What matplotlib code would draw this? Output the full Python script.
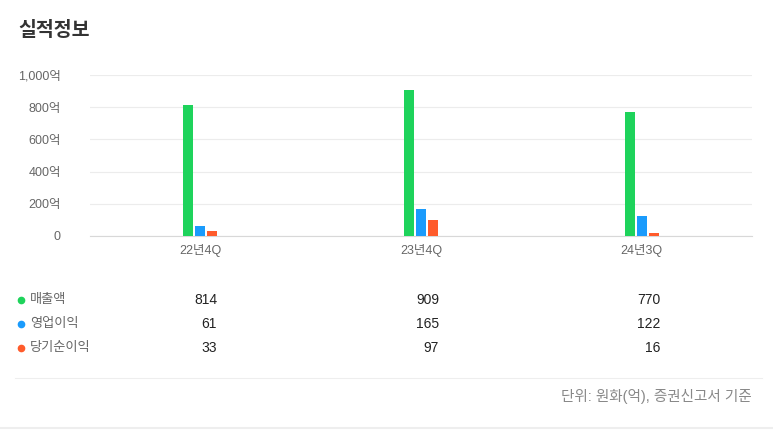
import numpy as np
import matplotlib
matplotlib.use('Agg')
import matplotlib.pyplot as plt

plt.rcParams['font.family'] = ['Liberation Sans', 'Noto Sans CJK KR', 'DejaVu Sans']

# data
quarters = ['22년4Q', '23년4Q', '24년3Q']
series_names = ['매출액', '영업이익', '당기순이익']
revenue = [814, 909, 770]
op_income = [61, 165, 122]
net_income = [33, 97, 16]
yticks = [0, 200, 400, 600, 800, 1000]
ytick_labels = ['0', '200억', '400억', '600억', '800억', '1,000억']
footer = '단위: 원화(억), 증권신고서 기준'

colors = ['#1ed35b', '#1a9bfc', '#ff5b2b']
series = [revenue, op_income, net_income]

W, H = 773, 430
fig = plt.figure(figsize=(W / 100, H / 100), dpi=100)
fig.patch.set_facecolor('white')

def fx(px):
    return px / W

def fy(py):
    return 1 - py / H

# chart area
ax = fig.add_axes([fx(90), fy(236), fx(752) - fx(90), fy(75) - fy(236)])
x = np.arange(len(quarters))
bw = 10 / 220.7
step = 12 / 220.7
for i, (vals, c) in enumerate(zip(series, colors)):
    ax.bar(x + (i - 1) * step, vals, width=bw, color=c, zorder=3)

ax.set_xlim(-0.5, len(quarters) - 0.5)
ax.set_ylim(0, 1000)
ax.set_yticks(yticks)
ax.set_yticklabels(ytick_labels)
ax.set_xticks(x)
ax.set_xticklabels(quarters)
ax.tick_params(axis='both', length=0, colors='#666666', labelsize=9)
ax.tick_params(axis='y', pad=21)
ax.tick_params(axis='x', pad=6)
for lbl in ax.get_yticklabels():
    lbl.set_horizontalalignment('right')
ax.grid(axis='y', color='#ececec', linewidth=0.8, zorder=0)
for s in ['top', 'right', 'left']:
    ax.spines[s].set_visible(False)
ax.spines['bottom'].set_color('#d8d8d8')

# title
fig.text(fx(18), fy(30), '실적정보', fontsize=14, fontweight='bold',
         color='#333333', va='center', ha='left', family=['Noto Sans CJK KR'])

# table below chart
row_y = [300, 324, 348]
col_x = [217, 439, 660]
for r, (name, vals, c) in enumerate(zip(series_names, series, colors)):
    y = fy(row_y[r])
    fig.add_artist(plt.Line2D([fx(21)], [y], marker='o', markersize=4.5,
                              color=c, linestyle='none'))
    fig.text(fx(30), y, name, color='#666666', fontsize=9.5, va='center', ha='left')
    for cx, v in zip(col_x, vals):
        fig.text(fx(cx), y, str(v), color='#222222', fontsize=10,
                 va='center', ha='right')

# separator lines
fig.add_artist(plt.Line2D([fx(15), fx(762)], [fy(378), fy(378)],
                          color='#eeeeee', linewidth=0.8))
fig.add_artist(plt.Line2D([0, 1], [fy(428), fy(428)],
                          color='#eeeeee', linewidth=1.5))

fig.text(fx(752), fy(397), footer, color='#888888', fontsize=10.5,
         va='center', ha='right')

fig.savefig('out.png', dpi=100, facecolor='white')
